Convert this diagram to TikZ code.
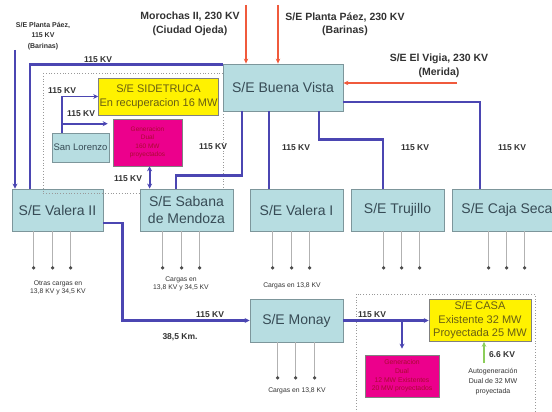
\documentclass[tikz,border=0pt]{standalone}
\usepackage{fontspec}
\setmainfont{Liberation Sans}
\usetikzlibrary{arrows.meta}
\definecolor{bluel}{RGB}{75,70,178}
\definecolor{redl}{RGB}{240,90,60}
\definecolor{greenl}{RGB}{140,205,90}
\definecolor{boxfill}{RGB}{183,221,225}
\definecolor{boxedge}{RGB}{125,150,155}
\definecolor{boxtext}{RGB}{55,75,85}
\definecolor{labtext}{RGB}{50,50,50}
\definecolor{ytext}{RGB}{105,95,20}
\definecolor{mtext}{RGB}{170,10,50}
\begin{document}
\begin{tikzpicture}[x=1pt,y=-1pt,
  sebox/.style={draw=boxedge, fill=boxfill, line width=0.8pt, text=boxtext,
    font=\fontsize{14}{17}\selectfont, align=center, inner sep=1pt},
  ybox/.style={draw=gray, fill=yellow, line width=0.6pt, text=ytext, align=center,
    font=\fontsize{11}{14}\selectfont, inner sep=1pt},
  mbox/.style={draw=gray, fill=magenta, line width=0.6pt, text=mtext, align=center,
    font=\fontsize{6.5}{8.5}\selectfont, inner sep=1pt},
  bl/.style={draw=bluel, line width=2.2pt},
  blarr/.style={bl, -{Stealth[length=5pt,width=5pt]}},
  rd/.style={draw=redl, line width=1.4pt, -{Stealth[length=5pt,width=4.5pt]}},
  gr/.style={draw=greenl, line width=1.4pt, -{Stealth[length=5pt,width=4.5pt]}},
  loadline/.style={draw=gray!60, line width=1.2pt, -{Circle[length=3.2pt,color=black!70,fill=black!70]}},
  kvlab/.style={font=\bfseries\fontsize{8.5}{10}\selectfont, text=labtext},
  loadlab/.style={font=\fontsize{6.8}{8.5}\selectfont, text=labtext, align=center},
  ttl/.style={font=\bfseries\fontsize{10.5}{13.5}\selectfont, text=labtext, align=center},
  dotbox/.style={draw=gray!80, dotted, line width=0.8pt}
]
\useasboundingbox (0,0) rectangle (552,412);
\clip (0,0) rectangle (552,412);

% Valera II first, then dotted frames
\node[sebox, minimum width=91pt, minimum height=42pt] (v2) at (57.5,210) {S/E Valera II};
\draw[dotbox] (43,73) rectangle (223,193);
\draw[dotbox] (356,294) rectangle (535,420);

% boxes
\node[sebox, minimum width=120pt, minimum height=47pt] (bv) at (283,87.5) {S/E Buena Vista};
\node[sebox, minimum width=93pt, minimum height=42pt] (sab) at (186.5,210) {S/E Sabana\\de Mendoza};
\node[sebox, minimum width=93pt, minimum height=42pt] (v1) at (296.5,210) {S/E Valera I};
\node[sebox, minimum width=93pt, minimum height=42pt] (tru) at (397.5,210) {S/E Trujillo};
\node[sebox, minimum width=110pt, minimum height=42pt] (cs) at (507,210) {S/E Caja Seca};
\node[sebox, minimum width=93pt, minimum height=43pt] (mon) at (296.5,320.5) {S/E Monay};
\node[ybox, minimum width=119pt, minimum height=37pt] (sid) at (158.5,96.5) {S/E SIDETRUCA\\En recuperacion 16 MW};
\node[mbox, minimum width=69pt, minimum height=47pt] (mg1) at (147.5,142.5) {Generacion\\Dual\\160 MW\\proyectados};
\node[sebox, minimum width=57pt, minimum height=29pt, font=\fontsize{9.5}{11}\selectfont] (sl) at (80.5,147.5) {San Lorenzo};
\node[ybox, minimum width=102pt, minimum height=42pt, font=\fontsize{11}{13.5}\selectfont] (casa) at (480,320.5) {S/E CASA\\Existente 32 MW\\Proyectada 25 MW};
\node[mbox, minimum width=74pt, minimum height=42pt, font=\fontsize{6.8}{8.8}\selectfont] (mg2) at (402,376) {Generacion\\Dual\\12 MW Existentes\\20 MW proyectados};

% top labels
\node[ttl, font=\bfseries\fontsize{7}{10.5}\selectfont] (ppt) at (43,36) {S/E Planta Páez,\\115 KV\\(Barinas)};
\node[ttl] (mot) at (190,24) {Morochas II, 230 KV\\(Ciudad Ojeda)};
\node[ttl] (pzt) at (345,24) {S/E Planta Páez, 230 KV\\(Barinas)};
\node[ttl] (evt) at (439,66) {S/E El Vigia, 230 KV\\(Merida)};

% red 230 kV feeders
\coordinate (mo) at (246,5);
\coordinate (pz) at (278,5);
\coordinate (ev) at (457,83);
\draw[rd] (mo) -- (mo |- bv.north);
\draw[rd] (pz) -- (pz |- bv.north);
\draw[rd] (ev) -- (ev -| bv.east);

% blue 115 kV lines
\coordinate (pp) at (15,50);
\draw[blarr] (pp) -- (pp |- v2.north);
\draw[bl] ([xshift=18pt]v2.north west) |- ([yshift=-1pt]bv.north west);
\coordinate (slx) at ([xshift=10pt]sl.north west);
\coordinate (mg1a) at ([yshift=-5pt]mg1.north west);
\draw[blarr, line width=1.8pt] (slx) |- (sid.west);
\draw[blarr, line width=1.8pt] (slx |- mg1a) -- ([xshift=-5pt]mg1a);
\coordinate (sabm) at ([xshift=10pt]sab.north west);
\draw[bl, line width=1.8pt, {Stealth[length=5pt,width=5pt]}-{Stealth[length=5pt,width=5pt]}] (sabm) -- (sabm |- mg1.south);
\draw[bl] ([xshift=19pt]bv.south west) -- ++(0,64) -| ([xshift=36pt]sab.north west);
\draw[bl] ([xshift=46pt]bv.south west) -- ([xshift=19pt]v1.north west);
\draw[bl] ([xshift=96pt]bv.south west) -- ++(0,28) -| ([xshift=32pt]tru.north west);
\draw[bl] ([yshift=-14.5pt]bv.east) -| ([xshift=28pt]cs.north west);
\draw[blarr] ([yshift=-13pt]v2.east) -- ++(19,0) |- (mon.west);
\draw[blarr] (mon.east) -- (casa.west);
\draw[blarr] (mg2.north |- mon.east) -- ([yshift=6pt]mg2.north);

% green
\coordinate (ag) at (484,363);
\draw[gr] (ag) -- (ag |- casa.south);

% kV labels
\node[kvlab] (k1) at (98,60) {115 KV};
\node[kvlab] (k2) at (62,91) {115 KV};
\node[kvlab] (k3) at (81,114) {115 KV};
\node[kvlab] (k4) at (128,179) {115 KV};
\node[kvlab] (k5) at (213,147) {115 KV};
\node[kvlab] (k6) at (296,148) {115 KV};
\node[kvlab] (k7) at (415,148) {115 KV};
\node[kvlab] (k8) at (512,148) {115 KV};
\node[kvlab] (k9) at (210,315) {115 KV};
\node[kvlab] (k10) at (180,337) {38,5 Km.};
\node[kvlab] (k11) at (372,315) {115 KV};
\node[kvlab] (k12) at (502,355) {6.6 KV};

% loads
\foreach \dx in {22,41,59} \draw[loadline] ([xshift=\dx pt]v2.south west) -- ++(0,38);
\foreach \dx in {23,42,60} \draw[loadline] ([xshift=\dx pt]sab.south west) -- ++(0,38);
\foreach \dx in {23,42,60} \draw[loadline] ([xshift=\dx pt]v1.south west) -- ++(0,38);
\foreach \dx in {33,51,69} \draw[loadline] ([xshift=\dx pt]tru.south west) -- ++(0,38);
\foreach \dx in {37,55,73} \draw[loadline] ([xshift=\dx pt]cs.south west) -- ++(0,38);
\foreach \dx in {28,46,65} \draw[loadline] ([xshift=\dx pt]mon.south west) -- ++(0,37);

\node[loadlab] (l1) at (58,288) {Otras cargas en\\13,8 KV y 34,5 KV};
\node[loadlab] (l2) at (181,284) {Cargas en\\13,8 KV y 34,5 KV};
\node[loadlab] (l3) at (292,286) {Cargas en 13,8 KV};
\node[loadlab] (l4) at (297,391) {Cargas en 13,8 KV};
\node[loadlab, font=\fontsize{7}{10}\selectfont] (l5) at (493,382) {Autogeneración\\Dual de 32 MW\\proyectada};
\end{tikzpicture}
\end{document}
